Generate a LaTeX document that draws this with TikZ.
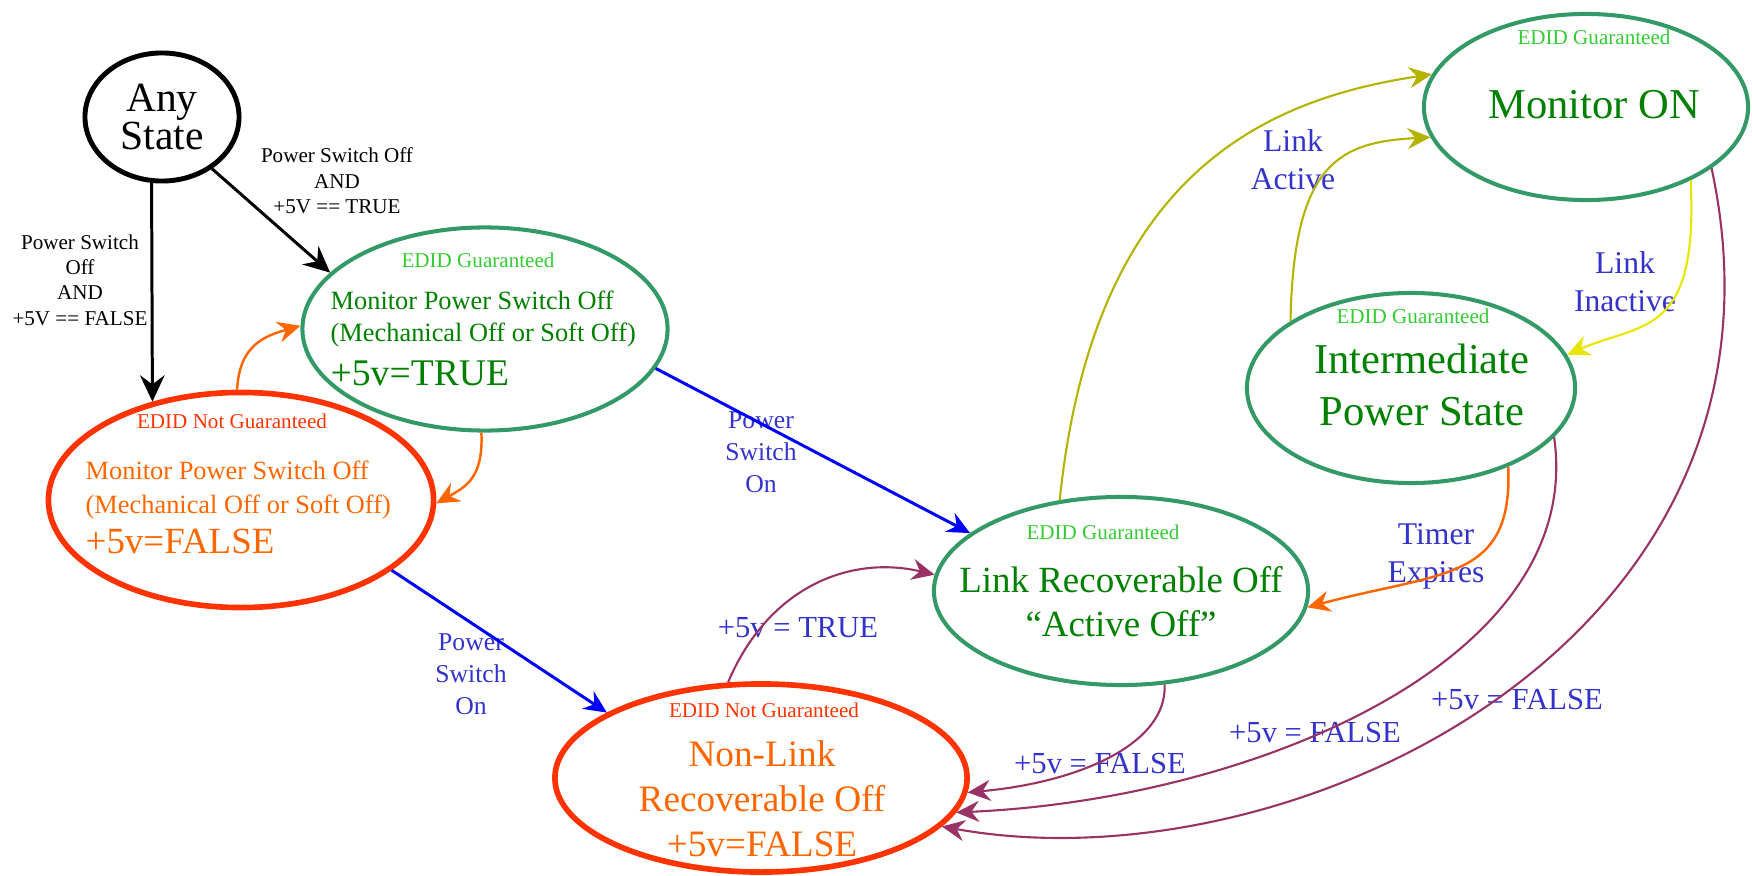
\documentclass[tikz,border=0pt]{standalone}
\usepackage{fontspec}
\setmainfont{Liberation Serif}
\usetikzlibrary{arrows.meta,shapes.geometric}
\definecolor{stategreen}{HTML}{339966}
\definecolor{statered}{HTML}{FF3300}
\definecolor{textgreen}{HTML}{008000}
\definecolor{textorange}{HTML}{FF6600}
\definecolor{edidgreen}{HTML}{33CC33}
\definecolor{edidred}{HTML}{FF3300}
\definecolor{labelblue}{HTML}{3333CC}
\definecolor{arrowblue}{HTML}{0000FF}
\definecolor{arrowolive}{HTML}{B3B300}
\definecolor{arrowyellow}{HTML}{E6E600}
\definecolor{arrowpurple}{HTML}{993366}
\tikzset{
  state/.style={ellipse, draw, inner sep=0pt, align=center},
  plainstate/.style={state, line width=1.4pt, font=\fontsize{11.8}{10.9}\selectfont},
  goodstate/.style={state, draw=stategreen, line width=1.15pt},
  badstate/.style={state, draw=statered, line width=1.6pt},
  edidok/.style={font=\fontsize{6}{7}\selectfont, text=edidgreen, anchor=base, inner sep=0pt},
  edidno/.style={edidok, text=edidred},
  oktext/.style={text=textgreen, inner sep=0pt},
  notext/.style={text=textorange, inner sep=0pt},
  cond/.style={text=labelblue, align=center, inner sep=0pt, font=\fontsize{9}{10.8}\selectfont},
  smallcond/.style={cond, font=\fontsize{7.3}{9.1}\selectfont},
  blackcond/.style={align=center, inner sep=0pt, font=\fontsize{6}{7.2}\selectfont},
  trans/.style={-{Stealth[length=6.5pt, width=6pt, inset=2.2pt]}, line width=0.6pt},
  blackarr/.style={-{Stealth[length=7.5pt, width=7pt, inset=2.6pt]}, line width=0.85pt},
  bluearr/.style={trans, draw=arrowblue, line width=0.85pt},
  orangearr/.style={trans, draw=textorange, line width=0.7pt},
  purplearr/.style={trans, draw=arrowpurple},
  olivearr/.style={trans, draw=arrowolive},
  yellowarr/.style={trans, draw=arrowyellow}
}
\begin{document}
\begin{tikzpicture}[x=0.01cm, y=-0.01cm]
  \useasboundingbox (0,0) rectangle (1752,876);
  % states
  \node[plainstate, minimum width=1.54cm, minimum height=1.28cm] (any) at (162,117) {Any\\State};
  \node[goodstate, minimum width=3.65cm, minimum height=2.03cm] (pson) at (485,329) {};
  \node[badstate, minimum width=3.85cm, minimum height=2.15cm] (psoff) at (241,500) {};
  \node[goodstate, minimum width=3.74cm, minimum height=1.88cm] (lro) at (1121,591) {};
  \node[badstate, minimum width=4.12cm, minimum height=1.88cm] (nlro) at (761,778) {};
  \node[goodstate, minimum width=3.24cm, minimum height=1.86cm] (mon) at (1586,107) {};
  \node[goodstate, minimum width=3.28cm, minimum height=1.90cm] (ips) at (1411,388) {};
  % state texts
  \node[edidok] (pson-edid) at (478,267) {EDID Guaranteed};
  \node[oktext, font=\fontsize{7.5}{9.2}\selectfont, align=left, anchor=west] (pson-txt) at (330,319) {Monitor Power Switch Off\\(Mechanical Off or Soft Off)};
  \node[oktext, font=\fontsize{10.7}{12}\selectfont, anchor=base west] (pson-v) at (330,385) {+5v=TRUE};
  \node[edidno] (psoff-edid) at (232,428) {EDID Not Guaranteed};
  \node[notext, font=\fontsize{7.5}{9.4}\selectfont, align=left, anchor=west] (psoff-txt) at (85,490) {Monitor Power Switch Off\\(Mechanical Off or Soft Off)};
  \node[notext, font=\fontsize{10.5}{12}\selectfont, anchor=base west] (psoff-v) at (85,553) {+5v=FALSE};
  \node[edidok] (lro-edid) at (1103,539) {EDID Guaranteed};
  \node[oktext, font=\fontsize{10.5}{12.5}\selectfont, align=center] (lro-txt) at (1121,602) {Link Recoverable Off\\“Active Off”};
  \node[edidno] (nlro-edid) at (764,717) {EDID Not Guaranteed};
  \node[notext, font=\fontsize{10.6}{12.8}\selectfont, align=center] (nlro-txt) at (762,799) {Non-Link\\Recoverable Off\\+5v=FALSE};
  \node[edidok] (mon-edid) at (1594,45) {EDID Guaranteed};
  \node[oktext, font=\fontsize{12.1}{14}\selectfont, anchor=base] (mon-txt) at (1594,119) {Monitor ON};
  \node[edidok] (ips-edid) at (1413,323) {EDID Guaranteed};
  \node[oktext, font=\fontsize{12.1}{14.8}\selectfont, align=center] (ips-txt) at (1422,385) {Intermediate\\Power State};
  % conditions
  \node[blackcond] (sw-true) at (337,181) {Power Switch Off\\AND\\+5V == TRUE};
  \node[blackcond] (sw-false) at (80,280) {Power Switch\\Off\\AND\\+5V == FALSE};
  \node[smallcond] (on-a) at (761,452) {Power\\Switch\\On};
  \node[smallcond] (on-b) at (471,674) {Power\\Switch\\On};
  \node[cond, font=\fontsize{8.7}{10}\selectfont] (v-true) at (798,628) {+5v = TRUE};
  \node[cond, font=\fontsize{8.7}{10}\selectfont] (v-false-a) at (1100,764) {+5v = FALSE};
  \node[cond, font=\fontsize{8.7}{10}\selectfont] (v-false-b) at (1315,733) {+5v = FALSE};
  \node[cond, font=\fontsize{8.7}{10}\selectfont] (v-false-c) at (1517,700) {+5v = FALSE};
  \node[cond] (act) at (1293,160) {Link\\Active};
  \node[cond] (inact) at (1625,282) {Link\\Inactive};
  \node[cond] (timer) at (1436,556) {Timer\\Expires};
  % transitions
  \draw[blackarr] (any.-99) -- (psoff.132);
  \draw[blackarr] (any.-46) -- (pson.160);
  \draw[orangearr] (psoff.92) .. controls +(2,-45) and +(-35,10) .. (pson.179);
  \draw[orangearr] (pson.-92) .. controls +(2,45) and +(30,-17) .. (psoff.-1);
  \draw[bluearr] (pson.-13) -- (lro.159);
  \draw[bluearr] (psoff.-25) -- (nlro.157);
  \draw[purplearr] (nlro.109) .. controls +(40,-95) and +(-85,-20) .. (lro.175);
  \draw[purplearr] (lro.-65) .. controls +(3,60) and +(110,-10) .. (nlro.-4);
  \draw[purplearr] (ips.-19) .. controls +(32,224) and +(295,-13) .. (nlro.-10);
  \draw[purplearr] (mon.-26) .. controls +(102,473) and +(349,63) .. (nlro.-15);
  \draw[olivearr] (lro.124) .. controls +(33,-320) and +(-174,26) .. (mon.168);
  \draw[olivearr] (ips.151) .. controls +(3,-160) and +(-90,5) .. (mon.-169);
  \draw[yellowarr] (mon.-35) .. controls +(8,158) and +(75,-33) .. (ips.12);
  \draw[orangearr] (ips.-39) .. controls +(5,115) and +(134,-36) .. (lro.-5);
\end{tikzpicture}
\end{document}
